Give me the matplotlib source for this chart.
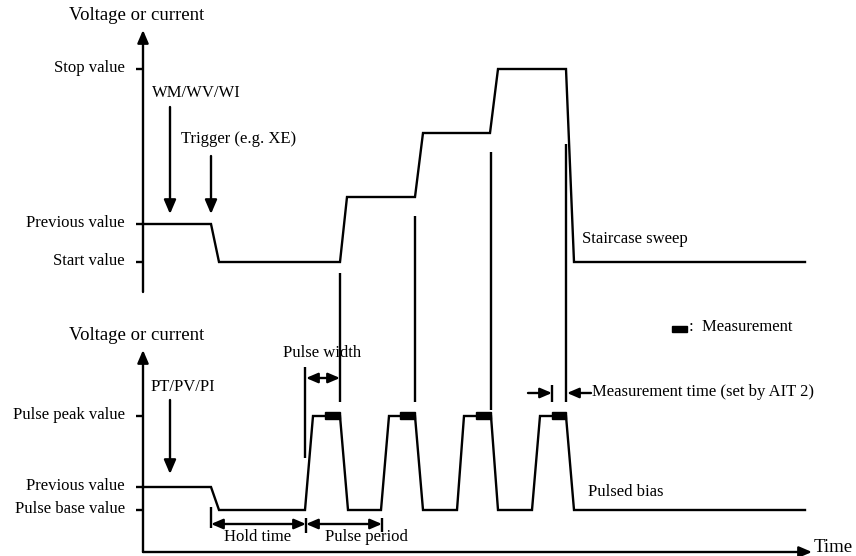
import matplotlib.pyplot as plt
from matplotlib.patches import Rectangle

plt.rcParams['font.family'] = ['Liberation Serif', 'DejaVu Serif']

# diagram is laid out in pixel units (x to the right, y downwards)
W, H = 856, 556

# staircase sweep waveform (top panel)
stair_t = [143, 211, 219, 340, 347, 415, 423, 490, 498, 566, 574, 805]
stair_v = [224, 224, 262, 262, 197, 197, 133, 133, 69, 69, 262, 262]

# pulsed bias waveform (bottom panel)
pulse_t = [143, 211, 219, 305, 313, 340, 348, 381, 389, 415, 423, 457, 464,
           491, 498, 532, 540, 566, 574, 805]
pulse_v = [487, 487, 510, 510, 416, 416, 510, 510, 416, 416, 510, 510, 416,
           416, 510, 510, 416, 416, 510, 510]

# measurement windows on top of each pulse
meas_start = [325, 400, 476, 552]
meas_end = [340, 415, 491, 566]
meas_level = 416

# value ticks
top_ticks = [69, 224, 262]
top_labels = ['Stop value', 'Previous value', 'Start value']
bot_ticks = [416, 487, 510]
bot_labels = ['Pulse peak value', 'Previous value', 'Pulse base value']

# vertical guide lines (x, y_top, y_bottom)
guides_x = [340, 415, 491, 566, 305]
guides_top = [273, 216, 152, 144, 367]
guides_bot = [402, 402, 410, 402, 458]

fig = plt.figure(figsize=(W / 100, H / 100), dpi=100)
ax = fig.add_axes([0, 0, 1, 1])
ax.set_xlim(0, W)
ax.set_ylim(H, 0)
ax.axis('off')

lw = 1.7
fs = 12
k = dict(color='black', lw=lw, solid_capstyle='butt')


def arrow(x0, y0, x1, y1, style='-|>', scale=11):
    ax.annotate('', xy=(x1, y1), xytext=(x0, y0),
                arrowprops=dict(arrowstyle=style + ',head_length=0.7,head_width=0.3',
                                color='black', lw=lw, mutation_scale=scale,
                                shrinkA=0, shrinkB=0))


# axes of the two panels
arrow(143, 292, 143, 30)
arrow(143, 552, 143, 350)
arrow(143, 552, 812, 552)
ax.text(137, 15, 'Voltage or current', fontsize=13.5, ha='center', va='center')
ax.text(137, 335, 'Voltage or current', fontsize=13.5, ha='center', va='center')
ax.text(814, 548, 'Time', fontsize=13.5, ha='left', va='center')

for y, lab in zip(top_ticks, top_labels):
    ax.plot([136, 143], [y, y], **k)
    ax.text(125, y - 1, lab, fontsize=fs, ha='right', va='center')
for y, lab in zip(bot_ticks, bot_labels):
    ax.plot([136, 143], [y, y], **k)
    ax.text(125, y - 1, lab, fontsize=fs, ha='right', va='center')

# waveforms
ax.plot(stair_t, stair_v, color='black', lw=lw, solid_joinstyle='miter')
ax.plot(pulse_t, pulse_v, color='black', lw=lw, solid_joinstyle='miter')

for x0, x1 in zip(meas_start, meas_end):
    ax.add_patch(Rectangle((x0, meas_level - 4), x1 - x0, 7, color='black'))

for x, y0, y1 in zip(guides_x, guides_top, guides_bot):
    ax.plot([x, x], [y0, y1], **k)

# command arrows
ax.text(196, 93, 'WM/WV/WI', fontsize=fs, ha='center', va='center')
arrow(170, 107, 170, 214, scale=12)
ax.text(181, 139, 'Trigger (e.g. XE)', fontsize=fs, ha='left', va='center')
arrow(211, 156, 211, 214, scale=12)
ax.text(183, 387, 'PT/PV/PI', fontsize=fs, ha='center', va='center')
arrow(170, 400, 170, 474, scale=12)

# pulse width
arrow(306, 378, 340, 378, style='<|-|>', scale=10)
ax.text(322, 353, 'Pulse width', fontsize=fs, ha='center', va='center')

# hold time / pulse period
ax.plot([211, 211], [507, 528], **k)
ax.plot([306, 306], [518, 533], **k)
ax.plot([382, 382], [518, 532], **k)
arrow(211, 524, 306, 524, style='<|-|>', scale=10)
arrow(306, 524, 382, 524, style='<|-|>', scale=10)
ax.text(258, 537, 'Hold time', fontsize=fs, ha='center', va='center')
ax.text(366, 537, 'Pulse period', fontsize=fs, ha='center', va='center')

# measurement time
ax.plot([552, 552], [385, 402], **k)
arrow(528, 393, 552, 393, scale=10)
arrow(591, 393, 567, 393, scale=10)
ax.text(592, 392, 'Measurement time (set by AIT 2)', fontsize=fs, ha='left', va='center')

# legend and curve labels
ax.add_patch(Rectangle((672, 326), 15, 6, color='black'))
ax.text(689, 327, ':  Measurement', fontsize=fs, ha='left', va='center')
ax.text(582, 239, 'Staircase sweep', fontsize=fs, ha='left', va='center')
ax.text(588, 492, 'Pulsed bias', fontsize=fs, ha='left', va='center')

fig.savefig('out.png', dpi=100)
